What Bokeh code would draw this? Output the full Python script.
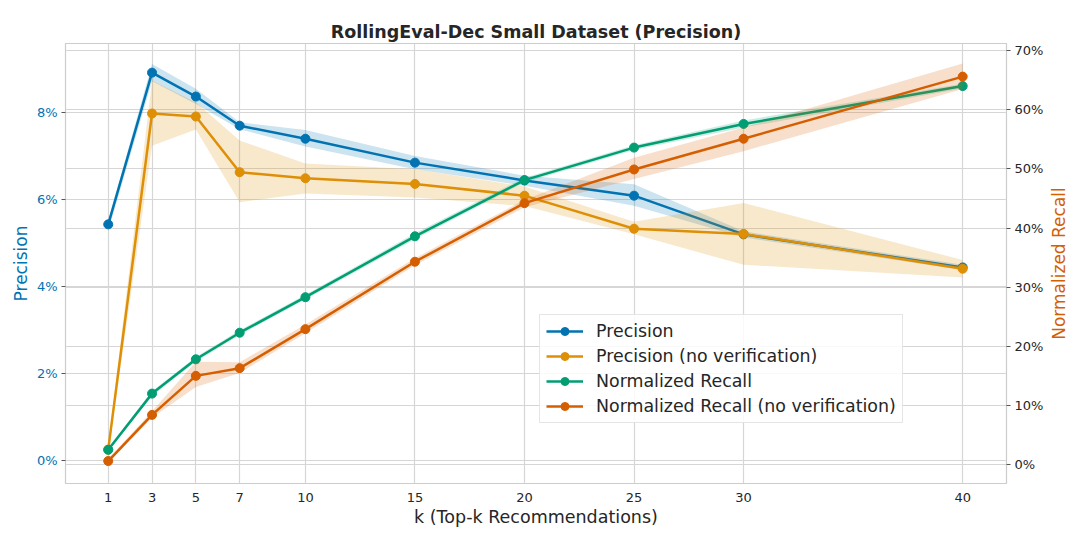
from bokeh.plotting import figure
from bokeh.layouts import row
from bokeh.models import (Range1d, LinearAxis, FixedTicker, PrintfTickFormatter,
                          Legend, LegendItem, Grid, ColumnDataSource)
from bokeh.embed import file_html
from bokeh.resources import INLINE

# ---------------- data ----------------
k_values = [1, 3, 5, 7, 10, 15, 20, 25, 30, 40]

precision = [5.43, 8.92, 8.37, 7.70, 7.40, 6.85, 6.44, 6.09, 5.20, 4.44]
precision_lo = [5.28, 8.72, 8.20, 7.62, 7.22, 6.70, 6.32, 5.86, 5.13, 4.38]
precision_hi = [5.52, 9.12, 8.55, 7.78, 7.60, 7.00, 6.55, 6.35, 5.27, 4.50]

precision_nv = [0.25, 7.98, 7.91, 6.63, 6.49, 6.36, 6.09, 5.33, 5.21, 4.41]
precision_nv_lo = [0.15, 7.24, 7.61, 5.94, 6.14, 6.05, 5.85, 5.20, 4.50, 4.21]
precision_nv_hi = [0.35, 8.74, 8.24, 7.36, 6.83, 6.70, 6.30, 5.49, 5.92, 4.61]

recall = [2.5, 12.0, 17.8, 22.3, 28.3, 38.6, 48.1, 53.6, 57.6, 64.0]
recall_lo = [2.2, 11.6, 17.4, 21.9, 27.9, 38.1, 47.7, 53.2, 57.0, 63.6]
recall_hi = [2.8, 12.4, 18.2, 22.7, 28.7, 39.1, 48.5, 54.0, 58.2, 64.4]

recall_nv = [0.6, 8.4, 15.0, 16.3, 22.9, 34.3, 44.2, 49.9, 55.1, 65.6]
recall_nv_lo = [0.3, 7.9, 13.1, 15.5, 22.2, 33.7, 43.5, 48.3, 53.0, 63.5]
recall_nv_hi = [1.0, 9.0, 17.4, 17.3, 23.7, 34.9, 44.8, 51.9, 57.0, 67.8]

left_ticks = [0, 2, 4, 6, 8]
right_ticks = [0, 10, 20, 30, 40, 50, 60, 70]

labels = ["Precision", "Precision (no verification)",
          "Normalized Recall", "Normalized Recall (no verification)"]
colors = ["#0173B2", "#DE8F05", "#029E73", "#D55E00"]

FONT = "DejaVu Sans"
TEXT = "#262626"
GRID = "#d6d6d6"

p = figure(width=1046, height=529, output_backend="svg", toolbar_location=None,
           x_range=Range1d(-0.95, 42.0), y_range=Range1d(-0.53, 9.59),
           min_border_left=65, min_border_right=39, min_border_top=43,
           min_border_bottom=46)
p.extra_y_ranges = {"right": Range1d(-3.2, 71.2)}
p.background_fill_color = "white"
p.outline_line_color = "#cccccc"
p.outline_line_width = 1.2

p.title.text = "RollingEval-Dec Small Dataset (Precision)"
p.title.align = "center"
p.title.text_font = FONT
p.title.text_font_size = "17.5px"
p.title.text_font_style = "bold"
p.title.text_color = TEXT
p.title.standoff = 4

# axes
xa = p.xaxis[0]
xa.ticker = FixedTicker(ticks=k_values)
xa.axis_label = "k (Top-k Recommendations)"
ya = p.yaxis[0]
ya.ticker = FixedTicker(ticks=left_ticks)
ya.formatter = PrintfTickFormatter(format="%d%%")
ya.axis_label = "Precision"

ra = LinearAxis(y_range_name="right", ticker=FixedTicker(ticks=right_ticks),
                formatter=PrintfTickFormatter(format="%d%%"))
p.add_layout(ra, "right")

for ax in (xa, ya, ra):
    ax.axis_line_color = None
    ax.minor_tick_line_color = None
    ax.major_label_text_font = FONT
    ax.major_label_text_font_size = "13px"
    ax.major_label_text_color = TEXT
    ax.axis_label_text_font = FONT
    ax.axis_label_text_font_size = "17px"
    ax.axis_label_text_font_style = "normal"
    ax.axis_label_text_color = TEXT
    ax.major_tick_line_color = "#555555"
    ax.major_tick_out = 4
    ax.major_tick_in = 0
    ax.major_label_standoff = 4
    ax.axis_label_standoff = 3

xa.major_tick_out = 0
xa.major_label_standoff = 9
xa.axis_label_standoff = 2
xa.axis_label_text_font_size = "17.5px"
ya.major_label_text_color = colors[0]
ya.axis_label_text_color = colors[0]

p.xgrid.grid_line_color = GRID
p.xgrid.grid_line_width = 1.2
p.ygrid.grid_line_color = GRID
p.ygrid.grid_line_width = 1.2
rgrid = Grid(dimension=1, ticker=FixedTicker(ticks=right_ticks), y_range_name="right",
             grid_line_color=GRID, grid_line_width=1.2)
p.add_layout(rgrid)

series = [
    (precision, precision_lo, precision_hi, "default"),
    (precision_nv, precision_nv_lo, precision_nv_hi, "default"),
    (recall, recall_lo, recall_hi, "right"),
    (recall_nv, recall_nv_lo, recall_nv_hi, "right"),
]

items = []
for (vals, lo, hi, rng), lab, col in zip(series, labels, colors):
    src = ColumnDataSource(dict(k=k_values, v=vals, lo=lo, hi=hi))
    p.varea(x="k", y1="lo", y2="hi", source=src, fill_color=col, fill_alpha=0.2,
            y_range_name=rng)
    ln = p.line(x="k", y="v", source=src, line_color=col, line_width=2.5,
                y_range_name=rng)
    sc = p.scatter(x="k", y="v", source=src, size=9, fill_color=col, line_color=col,
                   y_range_name=rng)
    items.append(LegendItem(label=lab, renderers=[ln, sc]))

legend = Legend(items=items, location=(474, 60), margin=0, padding=6, spacing=5,
                glyph_width=37, glyph_height=20, label_standoff=13,
                label_text_font=FONT, label_text_font_size="17.4px",
                label_text_color=TEXT, border_line_color="#cccccc",
                border_line_width=1, background_fill_color="white",
                background_fill_alpha=0.85)
p.add_layout(legend, "center")

# right-hand axis title, reading bottom to top (as a left-side title of a strip)
side = figure(width=30, height=529, output_backend="svg", toolbar_location=None,
              title="Normalized Recall", title_location="left",
              x_axis_location=None, y_axis_location=None,
              min_border_left=0, min_border_right=0, min_border_top=43,
              min_border_bottom=46)
side.outline_line_color = None
side.grid.visible = False
side.title.align = "center"
side.title.text_font = FONT
side.title.text_font_size = "17px"
side.title.text_font_style = "normal"
side.title.text_color = colors[3]
side.title.standoff = 0

layout = row(p, side)
open("out.html", "w").write(file_html(layout, INLINE))
